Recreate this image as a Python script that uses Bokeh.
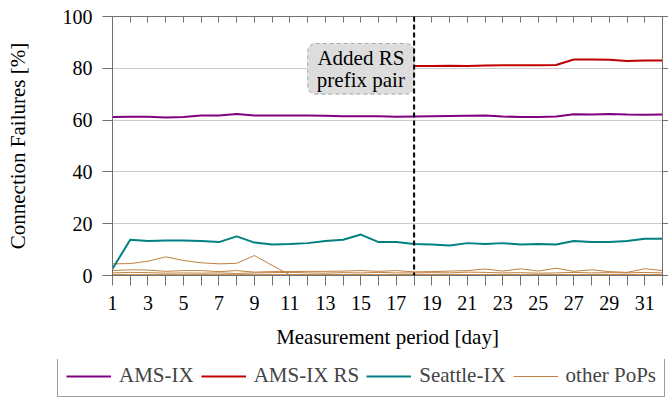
from bokeh.plotting import figure
from bokeh.layouts import column
from bokeh.models import (Range1d, FixedTicker, LinearAxis, Legend, LegendItem, Span,
                          Label, BoxAnnotation)
from bokeh.embed import file_html
from bokeh.resources import INLINE

# ---------------- data ----------------
days = list(range(1, 33))
ams_ix = [61.2, 61.3, 61.3, 61.0, 61.2, 61.8, 61.8, 62.4, 61.8, 61.8, 61.8, 61.8,
          61.7, 61.5, 61.5, 61.5, 61.3, 61.4, 61.5, 61.6, 61.7, 61.8, 61.4, 61.2,
          61.2, 61.4, 62.3, 62.2, 62.4, 62.2, 62.1, 62.2]
rs_days = list(range(18, 33))
ams_ix_rs = [80.9, 80.9, 81.0, 80.9, 81.1, 81.2, 81.2, 81.2, 81.3, 83.4, 83.4,
             83.3, 82.8, 83.0, 83.0]
seattle_ix = [2.6, 13.8, 13.3, 13.5, 13.5, 13.3, 12.9, 15.1, 12.7, 12.0, 12.2, 12.5,
              13.3, 13.8, 15.8, 12.9, 12.9, 12.2, 12.0, 11.6, 12.5, 12.2, 12.5, 12.0,
              12.2, 12.0, 13.3, 12.9, 12.9, 13.3, 14.2, 14.2]
other_pop_a = [4.5, 4.6, 5.5, 7.2, 5.8, 4.9, 4.5, 4.7, 7.7, 3.9, 0.2, 0.2, 0.2, 0.2,
               0.2, 0.2, 0.2, 0.2, 0.2, 0.2, 0.2, 0.2, 0.2, 0.2, 0.2, 0.2, 0.2, 0.2,
               0.2, 0.2, 0.2, 0.2]
other_pop_b = [1.9, 2.2, 2.1, 1.6, 1.9, 1.9, 1.5, 1.9, 1.3, 1.5, 1.5, 1.6, 1.6, 1.7,
               1.9, 1.6, 1.9, 1.4, 1.5, 1.7, 1.9, 2.5, 1.7, 2.6, 1.7, 2.8, 1.6, 2.2,
               1.5, 1.2, 2.6, 1.9]
other_pop_c = [1.0, 1.2, 1.1, 0.9, 1.0, 0.9, 1.0, 0.8, 1.0, 1.1, 1.2, 1.0, 0.9, 1.1,
               1.0, 1.2, 1.0, 1.0, 1.1, 1.0, 1.3, 1.2, 1.0, 1.1, 0.9, 1.0, 1.2, 1.0,
               1.1, 1.0, 1.2, 1.0]
other_pop_d = [0.1] * 32
other_pop_e = [0.3] * 32
other_pops = [other_pop_a, other_pop_b, other_pop_c, other_pop_d, other_pop_e]

rs_added_day = 18
x_label_ticks = [1, 3, 5, 7, 9, 11, 13, 15, 17, 19, 21, 23, 25, 27, 29, 31]
x_minor_ticks = [2, 4, 6, 8, 10, 12, 14, 16, 18, 20, 22, 24, 26, 28, 30, 32]
y_ticks = [0, 20, 40, 60, 80, 100]
note_lines = ["Added RS", "prefix pair"]
series_names = ["AMS-IX", "AMS-IX RS", "Seattle-IX", "other PoPs"]

# ---------------- style ----------------
FONT = "Liberation Serif"
AX = "#707070"
C_AMS = "#800080"
C_RS = "#C00000"
C_SEA = "#008080"
C_OTH = "#BF8040"

p = figure(width=668, height=359, output_backend="svg", toolbar_location=None,
           x_range=Range1d(1, 32), y_range=Range1d(0, 100),
           min_border_left=112, min_border_right=6, min_border_top=16,
           min_border_bottom=84)
p.background_fill_color = "white"
p.border_fill_color = "white"
p.outline_line_color = AX
p.outline_line_width = 1

p.xgrid.grid_line_color = None
p.ygrid.ticker = FixedTicker(ticks=y_ticks)
p.ygrid.grid_line_color = "#cccccc"
p.ygrid.grid_line_width = 1

xa = p.xaxis[0]
xa.ticker = FixedTicker(ticks=x_label_ticks, minor_ticks=x_minor_ticks)
xa.axis_label = "Measurement period [day]"
ya = p.yaxis[0]
ya.ticker = FixedTicker(ticks=y_ticks)
ya.axis_label = "Connection Failures [%]"
for ax in (xa, ya):
    ax.axis_line_color = AX
    ax.major_tick_line_color = AX
    ax.minor_tick_line_color = AX
    ax.major_tick_in = 0
    ax.major_tick_out = 10
    ax.minor_tick_in = 0
    ax.minor_tick_out = 10
    ax.major_label_text_font = FONT
    ax.major_label_text_font_size = "20px"
    ax.major_label_text_color = "black"
    ax.axis_label_text_font = FONT
    ax.axis_label_text_font_size = "21px"
    ax.axis_label_text_font_style = "normal"
    ax.axis_label_text_color = "black"
    ax.major_label_standoff = 10
ya.minor_tick_line_color = None
xa.axis_label_standoff = 12
ya.axis_label_standoff = 30

top = LinearAxis(ticker=FixedTicker(ticks=x_label_ticks, minor_ticks=x_minor_ticks),
                 major_label_text_font_size="1px", major_label_text_color=None,
                 major_tick_in=6, major_tick_out=0, minor_tick_in=6, minor_tick_out=0,
                 axis_line_color=AX, major_tick_line_color=AX, minor_tick_line_color=AX,
                 major_label_standoff=0)
p.add_layout(top, "above")
right = LinearAxis(ticker=FixedTicker(ticks=y_ticks), major_label_text_font_size="1px",
                   major_label_text_color=None,
                   major_tick_in=0, major_tick_out=6, minor_tick_line_color=None,
                   axis_line_color=AX, major_tick_line_color=AX, major_label_standoff=0)
p.add_layout(right, "right")

for ys in other_pops:
    p.line(days, ys, line_color=C_OTH, line_width=1)
p.line(days, seattle_ix, line_color=C_SEA, line_width=2)
p.line(days, ams_ix, line_color=C_AMS, line_width=2)
p.line(rs_days, ams_ix_rs, line_color=C_RS, line_width=2)

# annotation box ("Added RS prefix pair"), right edge on the event day
box = BoxAnnotation(left=12.0, right=rs_added_day, bottom=70.0, top=89.6,
                    fill_color="#dddddd", fill_alpha=1.0, line_color="black",
                    line_dash="4 3", line_width=1, border_radius=8)
p.add_layout(box)
note_y = [84.0, 75.6]
for txt, yy in zip(note_lines, note_y):
    p.add_layout(Label(x=15, y=yy, text=txt, text_align="center",
                       text_baseline="middle", text_font=FONT,
                       text_font_size="21px", text_color="black"))

span = Span(location=rs_added_day, dimension="height", line_color="black",
            line_dash="5 3", line_width=2)
p.add_layout(span)

# ---------------- legend strip (separate figure) ----------------
q = figure(width=668, height=40, output_backend="svg", toolbar_location=None,
           x_range=Range1d(0, 1), y_range=Range1d(0, 1),
           x_axis_type=None, y_axis_type=None,
           min_border_left=0, min_border_right=0, min_border_top=0, min_border_bottom=0)
q.frame_align = False
q.outline_line_color = None
q.grid.grid_line_color = None
q.background_fill_color = "white"
q.border_fill_color = "white"
k_ams = q.line(days, ams_ix, line_color=C_AMS, line_width=2, visible=False)
k_rs = q.line(rs_days, ams_ix_rs, line_color=C_RS, line_width=2, visible=False)
k_sea = q.line(days, seattle_ix, line_color=C_SEA, line_width=2, visible=False)
k_oth = q.line(days, other_pops[0], line_color=C_OTH, line_width=1, visible=False)

legend = Legend(items=[LegendItem(label=series_names[0], renderers=[k_ams]),
                       LegendItem(label=series_names[1], renderers=[k_rs]),
                       LegendItem(label=series_names[2], renderers=[k_sea]),
                       LegendItem(label=series_names[3], renderers=[k_oth])],
                orientation="horizontal", location=(57, 2),
                label_text_font=FONT, label_text_font_size="21px",
                glyph_width=45, glyph_height=20, label_standoff=8, spacing=7,
                padding=8, margin=0, border_line_color="#404040",
                border_line_width=1, background_fill_alpha=1)
q.add_layout(legend)

layout = column(p, q, spacing=0)
open("out.html", "w").write(file_html(layout, INLINE))
